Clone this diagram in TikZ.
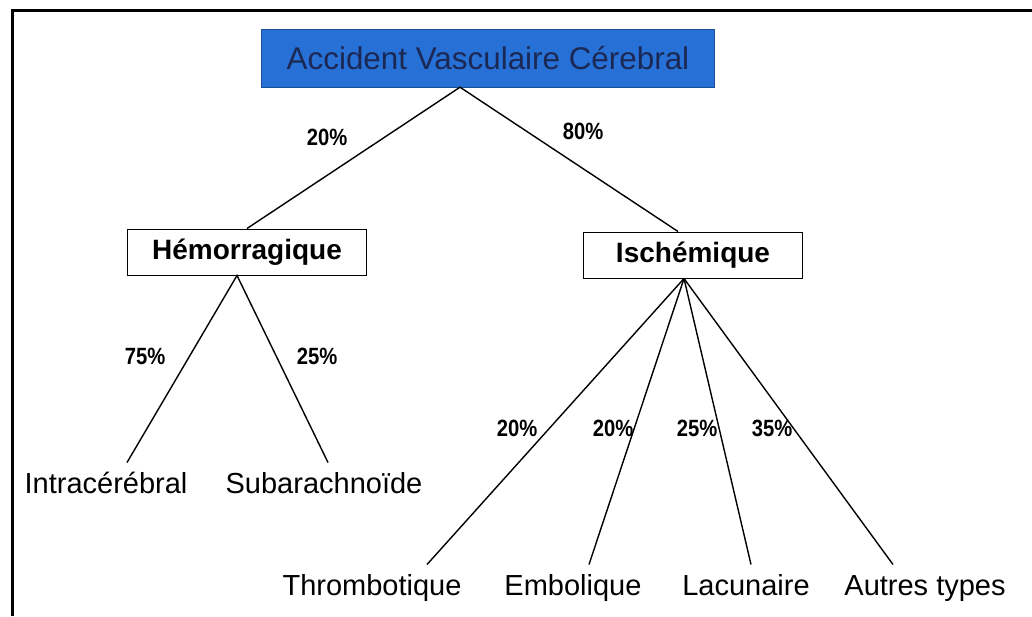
\documentclass[tikz,border=0pt]{standalone}
\usepackage{fontspec}
\setmainfont{Liberation Sans}
\newfontfamily\pctfont{Liberation Sans}[FakeStretch=0.86]
\definecolor{avcblue}{RGB}{38,112,214}
\definecolor{avcink}{RGB}{28,40,84}

\begin{document}
\begin{tikzpicture}[x=1pt,y=-1pt,
    titlebox/.style={rectangle,draw=avcblue!70!black,fill=avcblue,text=avcink,minimum width=453pt,minimum height=58pt,font=\fontsize{31.4}{34}\selectfont},
    catbox/.style={rectangle,draw=black,line width=1pt,minimum height=46pt,font=\fontsize{28}{30}\selectfont\bfseries},
    leaf/.style={inner sep=0pt,outer sep=10pt,text height=21pt,text depth=6pt,font=\fontsize{29}{31}\selectfont},
    pct/.style={font=\pctfont\fontsize{23.5}{25}\selectfont\bfseries},
    branch/.style={line width=1.4pt}]
    \useasboundingbox (0,0) rectangle (1032,616);

    % frame
    \draw[line width=3pt] (12,616) -- (12,10) -- (1032,10);

    % top and categories
    \node[titlebox] (avc) at (488,58) {Accident Vasculaire Cérebral};
    \node[catbox,minimum width=239pt] (hem) at (247,252) {Hémorragique};
    \node[catbox,minimum width=219pt] (isch) at (693,255) {Ischémique};

    % leaves
    \node[leaf] (intra) at (106,486) {Intracérébral};
    \node[leaf] (sub) at (324,486) {Subarachnoïde};
    \node[leaf] (thr) at (372,588) {Thrombotique};
    \node[leaf] (emb) at (573,588) {Embolique};
    \node[leaf] (lac) at (746,588) {Lacunaire};
    \node[leaf] (aut) at (925,588) {Autres types};

    % branches
    \draw[branch] (hem.north) -- ([xshift=-28pt]avc.south) -- ([xshift=-15pt]isch.north);
    \draw[branch] ([xshift=21pt]intra.north) -- ([xshift=-10pt]hem.south) -- ([xshift=4pt]sub.north);
    \draw[branch] ([xshift=55pt]thr.north) -- ([xshift=-9pt]isch.south);
    \draw[branch] ([xshift=16pt]emb.north) -- ([xshift=-9pt]isch.south);
    \draw[branch] ([xshift=5pt]lac.north) -- ([xshift=-9pt]isch.south);
    \draw[branch] ([xshift=-32pt]aut.north) -- ([xshift=-9pt]isch.south);

    % percentages
    \node[pct] (p-hem) at (327,137) {20\%};
    \node[pct] (p-isch) at (583,131) {80\%};
    \node[pct] (p-intra) at (145,356) {75\%};
    \node[pct] (p-sub) at (317,356) {25\%};
    \node[pct] (p-thr) at (517,428) {20\%};
    \node[pct] (p-emb) at (613,428) {20\%};
    \node[pct] (p-lac) at (697,428) {25\%};
    \node[pct] (p-aut) at (772,428) {35\%};
\end{tikzpicture}
\end{document}
